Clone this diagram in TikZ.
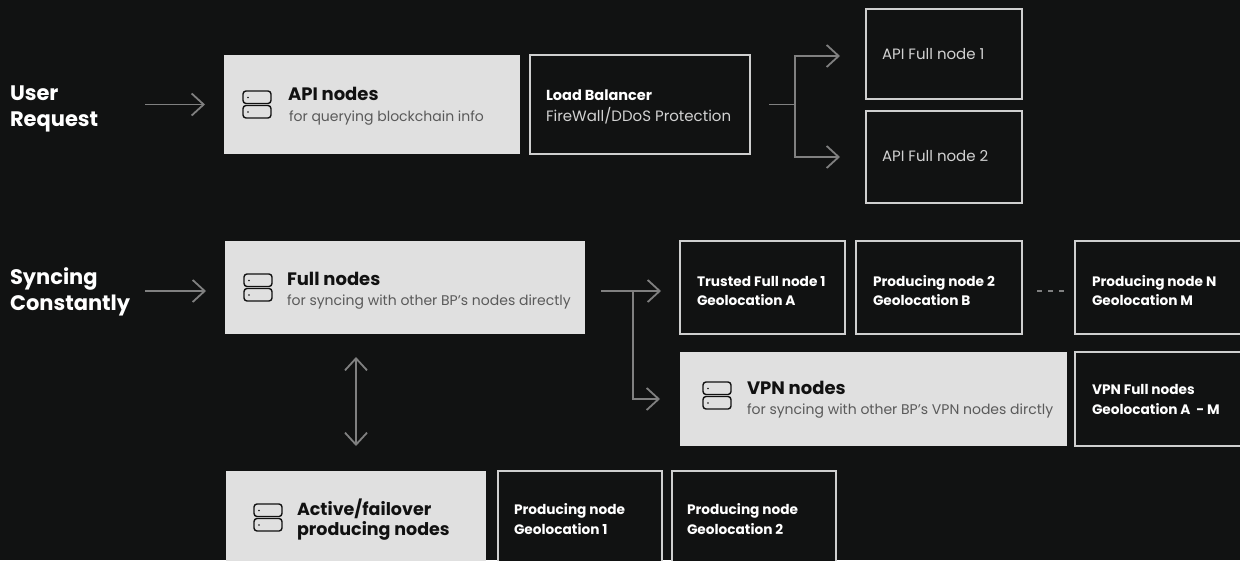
\documentclass[tikz,border=0pt]{standalone}
\usepackage{fontspec}
\setmainfont{Poppins}
\usetikzlibrary{arrows.meta}
\definecolor{bg}{HTML}{111212}
\definecolor{lightfill}{HTML}{E0E0E0}
\definecolor{boxline}{HTML}{CFCFCF}
\definecolor{arrowc}{HTML}{808080}
\definecolor{subgray}{HTML}{5A5A5A}
\definecolor{textlight}{HTML}{D2D2D2}
\definecolor{ink}{HTML}{111111}
\tikzset{
  srvicon/.pic={
    \draw[ink, line width=1.4pt, rounded corners=3pt] (0,0) rectangle (28,12.5);
    \draw[ink, line width=1.4pt, rounded corners=3pt] (0,14.5) rectangle (28,27);
    \fill[ink] (5,6.5) circle (0.9);
    \fill[ink] (5,21) circle (0.9);
  }
}
\begin{document}
\begin{tikzpicture}[x=1pt,y=-1pt,
  lightbox/.style={fill=lightfill, draw=none, anchor=north west, inner sep=0, outer sep=0},
  darkbox/.style={fill=bg, draw=boxline, line width=1.3pt, anchor=north west, inner sep=0, outer sep=0},
  lbl/.style={anchor=base west, inner sep=0, outer sep=0},
  side/.style={lbl, font=\fontsize{21}{24}\selectfont\bfseries, text=white},
  btitle/.style={lbl, font=\fontsize{18}{21}\selectfont\bfseries, text=ink},
  bsub/.style={lbl, font=\fontsize{14}{17}\selectfont, text=subgray},
  dtitle/.style={lbl, font=\fontsize{13.7}{16}\selectfont\bfseries, text=white},
  dtext/.style={lbl, font=\fontsize{15}{18}\selectfont, text=textlight},
  conn/.style={draw=arrowc, line width=1.8pt},
  arr/.style={conn, -{Straight Barb[length=12pt,width=22pt]}},
  darr/.style={conn, {Straight Barb[length=12pt,width=22pt]}-{Straight Barb[length=12pt,width=22pt]}},
  dotted link/.style={draw=arrowc, line width=1.5pt, dash pattern=on 5pt off 6pt}
]
\useasboundingbox (0,0) rectangle (1240,560);
\fill[bg] (0,0) rectangle (1240,560);
\clip (0,0) rectangle (1240,560);

% boxes
\node[lightbox, minimum width=296pt, minimum height=99pt] (api) at (224,55) {};
\node[darkbox, minimum width=220pt, minimum height=99pt] (lb) at (530,55) {};
\node[darkbox, minimum width=156pt, minimum height=90pt] (af1) at (866,9) {};
\node[darkbox, minimum width=156pt, minimum height=92pt] (af2) at (866,111) {};

\node[lightbox, minimum width=360pt, minimum height=93pt] (full) at (225,241) {};
\node[darkbox, minimum width=165pt, minimum height=93pt] (tf1) at (680,241) {};
\node[darkbox, minimum width=166pt, minimum height=93pt] (pn2) at (856,241) {};
\node[darkbox, minimum width=180pt, minimum height=93pt] (pnN) at (1075,241) {};
\node[lightbox, minimum width=387pt, minimum height=94pt] (vpn) at (680,352) {};
\node[darkbox, minimum width=180pt, minimum height=94pt] (vpnf) at (1075,352) {};

\node[lightbox, minimum width=260pt, minimum height=100pt] (act) at (226,471) {};
\node[darkbox, minimum width=164pt, minimum height=100pt] (pg1) at (498,471) {};
\node[darkbox, minimum width=164pt, minimum height=100pt] (pg2) at (672,471) {};

% icons
\pic at (243,91) {srvicon};
\pic at (244,274) {srvicon};
\pic at (703,382) {srvicon};
\pic at (254,504) {srvicon};

% side labels
\node[side] (ur1) at (10,100) {User};
\node[side] (ur2) at (10,126) {Request};
\node[side] (sc1) at (10,284) {Syncing};
\node[side] (sc2) at (10,310) {Constantly};

% texts in boxes
\node[btitle] (apit) at (288,100) {API nodes};
\node[bsub] (apis) at (289,121) {for querying blockchain info};
\node[dtitle, font=\fontsize{14.5}{17}\selectfont\bfseries] (lbt) at (546,100) {Load Balancer};
\node[dtext] (lbs) at (546,121) {FireWall/DDoS Protection};
\node[dtext] (af1t) at (882,59) {API Full node 1};
\node[dtext] (af2t) at (882,161) {API Full node 2};

\node[btitle] (fullt) at (287,285) {Full nodes};
\node[bsub] (fulls) at (287,305) {for syncing with other BP's nodes directly};
\node[dtitle] (tf1a) at (697,286) {Trusted Full node 1};
\node[dtitle] (tf1b) at (697,305) {Geolocation A};
\node[dtitle] (pn2a) at (873,286) {Producing node 2};
\node[dtitle] (pn2b) at (873,305) {Geolocation B};
\node[dtitle] (pnNa) at (1092,286) {Producing node N};
\node[dtitle] (pnNb) at (1092,305) {Geolocation M};
\node[btitle] (vpnt) at (747,394) {VPN nodes};
\node[bsub] (vpns) at (747,414) {for syncing with other BP's VPN nodes dirctly};
\node[dtitle] (vpnfa) at (1092,394) {VPN Full nodes};
\node[dtitle] (vpnfb) at (1092,414) {Geolocation A\ \ - M};

\node[btitle, font=\fontsize{17.5}{21}\selectfont\bfseries] (acta) at (297,515) {Active/failover};
\node[btitle, font=\fontsize{17.5}{21}\selectfont\bfseries] (actb) at (297,535) {producing nodes};
\node[dtitle] (pg1a) at (514,514) {Producing node};
\node[dtitle] (pg1b) at (514,534) {Geolocation 1};
\node[dtitle] (pg2a) at (687,514) {Producing node};
\node[dtitle] (pg2b) at (687,534) {Geolocation 2};

% connectors
\coordinate (in1) at (145,104.5);
\coordinate (in2) at (145,291);
\coordinate (o1) at (769,104.5);
\coordinate (br1) at (795,104.5);
\coordinate (o2) at (601,291);
\coordinate (br2) at (633,291);

\draw[arr, shorten >=19pt] (in1) -- (in1 -| api.west);
\draw[conn] (o1) -- (br1);
\draw[arr, shorten >=26pt] (br1) |- ([yshift=-2pt]af1.west);
\draw[arr, shorten >=26pt] (br1) |- (af2.west);

\draw[arr, shorten >=19pt] (in2) -- (in2 -| full.west);
\draw[arr, shorten >=19pt] (o2) -- (o2 -| tf1.west);
\draw[arr, shorten >=20pt] (br2) |- (vpn.west);
\draw[darr, shorten <=23pt, shorten >=25pt] (act.north |- full.south) -- (act.north);
\draw[dotted link] ([xshift=15pt,yshift=-3.5pt]pn2.east) -- ([xshift=-9pt,yshift=-3.5pt]pnN.west);
\end{tikzpicture}
\end{document}
